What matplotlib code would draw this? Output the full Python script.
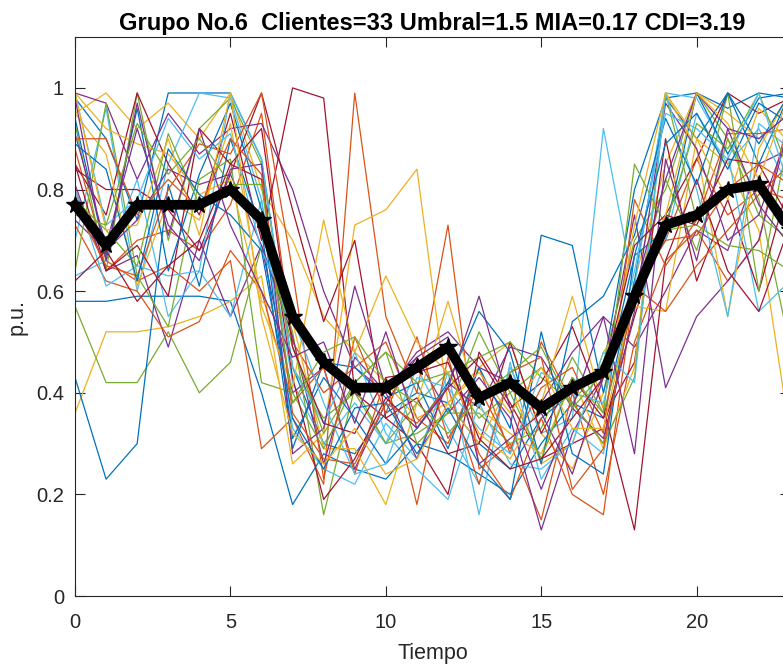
import numpy as np
import matplotlib
matplotlib.use("Agg")
import matplotlib.pyplot as plt

# Hourly load profiles (p.u.) for the 33 clients of group 6
horas = list(range(24))

clientes = [
    [0.98, 0.90, 0.74, 0.99, 0.99, 0.99, 0.86, 0.45, 0.30, 0.28, 0.36, 0.40, 0.38, 0.30, 0.25, 0.35, 0.40, 0.45, 0.80, 0.98, 0.99, 0.96, 0.99, 0.98],
    [0.80, 0.64, 0.70, 0.72, 0.68, 0.77, 0.95, 0.50, 0.40, 0.45, 0.50, 0.35, 0.30, 0.45, 0.28, 0.50, 0.38, 0.30, 0.60, 0.70, 0.86, 0.75, 0.80, 0.78],
    [0.95, 0.99, 0.92, 0.97, 0.90, 0.99, 0.80, 0.70, 0.55, 0.48, 0.42, 0.35, 0.38, 0.45, 0.50, 0.32, 0.25, 0.40, 0.62, 0.85, 0.99, 0.95, 0.90, 0.95],
    [0.99, 0.97, 0.82, 0.95, 0.87, 0.92, 0.93, 0.80, 0.60, 0.45, 0.40, 0.48, 0.52, 0.45, 0.42, 0.38, 0.48, 0.55, 0.49, 0.60, 0.72, 0.68, 0.85, 0.88],
    [0.93, 0.64, 0.99, 0.70, 0.92, 0.98, 0.85, 0.45, 0.35, 0.40, 0.30, 0.38, 0.44, 0.35, 0.40, 0.45, 0.38, 0.46, 0.70, 0.80, 0.99, 0.90, 0.75, 0.70],
    [0.70, 0.96, 0.60, 0.85, 0.99, 0.98, 0.78, 0.42, 0.30, 0.38, 0.30, 0.45, 0.33, 0.22, 0.45, 0.32, 0.35, 0.92, 0.60, 0.70, 0.95, 0.85, 0.92, 0.80],
    [0.85, 0.75, 0.99, 0.85, 0.75, 0.95, 0.70, 1.00, 0.98, 0.40, 0.35, 0.30, 0.20, 0.48, 0.38, 0.27, 0.30, 0.33, 0.55, 0.75, 0.86, 0.99, 0.95, 0.98],
    [0.58, 0.58, 0.59, 0.59, 0.59, 0.58, 0.40, 0.18, 0.28, 0.25, 0.23, 0.30, 0.28, 0.24, 0.20, 0.30, 0.38, 0.35, 0.62, 0.98, 0.90, 0.99, 0.85, 0.99],
    [0.88, 0.66, 0.62, 0.65, 0.60, 0.66, 0.29, 0.35, 0.22, 0.99, 0.55, 0.40, 0.73, 0.25, 0.30, 0.15, 0.40, 0.20, 0.50, 0.66, 0.72, 0.62, 0.70, 0.95],
    [0.36, 0.52, 0.52, 0.53, 0.55, 0.58, 0.63, 0.26, 0.32, 0.73, 0.76, 0.84, 0.38, 0.30, 0.42, 0.26, 0.30, 0.48, 0.57, 0.56, 0.90, 0.85, 0.72, 0.32],
    [0.81, 0.64, 0.67, 0.49, 0.70, 0.55, 0.69, 0.40, 0.45, 0.25, 0.38, 0.47, 0.36, 0.43, 0.35, 0.13, 0.32, 0.43, 0.75, 0.41, 0.55, 0.62, 0.70, 0.93],
    [0.57, 0.42, 0.42, 0.52, 0.40, 0.46, 0.69, 0.52, 0.16, 0.41, 0.30, 0.32, 0.36, 0.36, 0.30, 0.33, 0.47, 0.36, 0.58, 0.82, 0.68, 0.90, 0.78, 0.49],
    [0.63, 0.66, 0.82, 0.55, 0.64, 0.55, 0.78, 0.33, 0.25, 0.22, 0.34, 0.27, 0.44, 0.16, 0.46, 0.23, 0.33, 0.28, 0.61, 0.99, 0.98, 0.87, 0.56, 0.62],
    [0.84, 0.80, 0.80, 0.76, 0.68, 0.83, 0.99, 0.76, 0.54, 0.70, 0.35, 0.39, 0.28, 0.30, 0.50, 0.32, 0.43, 0.35, 0.46, 0.90, 0.62, 0.78, 0.60, 0.82],
    [0.43, 0.23, 0.30, 0.81, 0.61, 0.90, 0.72, 0.29, 0.46, 0.45, 0.39, 0.42, 0.29, 0.45, 0.33, 0.71, 0.69, 0.40, 0.67, 0.72, 0.99, 0.87, 0.98, 0.99],
    [0.73, 0.62, 0.60, 0.51, 0.54, 0.68, 0.60, 0.38, 0.45, 0.24, 0.43, 0.18, 0.47, 0.28, 0.19, 0.35, 0.20, 0.16, 0.61, 0.56, 0.65, 0.72, 0.79, 0.85],
    [0.95, 0.87, 0.61, 0.78, 0.74, 0.93, 0.58, 0.54, 0.29, 0.29, 0.18, 0.38, 0.58, 0.37, 0.32, 0.28, 0.43, 0.29, 0.45, 0.99, 0.88, 0.55, 0.88, 0.99],
    [0.74, 0.68, 0.74, 0.84, 0.81, 0.83, 0.69, 0.51, 0.26, 0.47, 0.40, 0.27, 0.42, 0.37, 0.49, 0.47, 0.37, 0.31, 0.56, 0.97, 0.88, 0.70, 0.75, 0.92],
    [0.64, 0.97, 0.63, 0.53, 0.82, 0.86, 0.42, 0.40, 0.29, 0.42, 0.48, 0.42, 0.44, 0.47, 0.50, 0.43, 0.38, 0.30, 0.43, 0.99, 0.74, 0.99, 0.60, 0.92],
    [0.80, 0.61, 0.65, 0.63, 0.64, 0.99, 0.86, 0.45, 0.34, 0.48, 0.32, 0.25, 0.19, 0.38, 0.26, 0.25, 0.30, 0.48, 0.42, 0.99, 0.80, 0.55, 0.93, 0.88],
    [0.85, 0.64, 0.69, 0.59, 0.92, 0.85, 0.82, 0.43, 0.19, 0.27, 0.39, 0.33, 0.41, 0.47, 0.37, 0.42, 0.53, 0.37, 0.13, 0.66, 0.82, 0.64, 0.56, 0.73],
    [0.94, 0.67, 0.96, 0.64, 0.83, 0.97, 0.76, 0.31, 0.43, 0.35, 0.26, 0.33, 0.42, 0.56, 0.48, 0.26, 0.54, 0.59, 0.71, 0.94, 0.81, 0.99, 0.89, 0.99],
    [0.77, 0.65, 0.63, 0.80, 0.89, 0.87, 0.99, 0.64, 0.23, 0.51, 0.36, 0.51, 0.31, 0.41, 0.29, 0.41, 0.45, 0.32, 0.78, 0.65, 0.74, 0.91, 0.91, 0.92],
    [0.99, 0.92, 0.89, 0.87, 0.79, 0.82, 0.57, 0.41, 0.74, 0.48, 0.63, 0.50, 0.44, 0.32, 0.27, 0.38, 0.59, 0.37, 0.73, 0.99, 0.90, 0.78, 0.96, 0.89],
    [0.91, 0.69, 0.92, 0.73, 0.66, 0.84, 0.85, 0.28, 0.33, 0.61, 0.41, 0.47, 0.51, 0.26, 0.31, 0.36, 0.24, 0.43, 0.60, 0.82, 0.99, 0.92, 0.77, 0.69],
    [0.78, 0.72, 0.65, 0.91, 0.77, 0.80, 0.73, 0.49, 0.32, 0.42, 0.48, 0.30, 0.36, 0.52, 0.40, 0.27, 0.43, 0.36, 0.85, 0.73, 0.93, 0.88, 0.99, 0.83],
    [0.99, 0.73, 0.78, 0.94, 0.86, 0.91, 0.68, 0.55, 0.38, 0.24, 0.26, 0.43, 0.41, 0.33, 0.28, 0.44, 0.40, 0.38, 0.64, 0.95, 0.92, 0.86, 0.99, 0.80],
    [0.62, 0.68, 0.58, 0.65, 0.70, 0.85, 0.92, 0.49, 0.34, 0.32, 0.43, 0.44, 0.46, 0.31, 0.25, 0.27, 0.35, 0.43, 0.69, 0.75, 0.73, 0.86, 0.85, 0.74],
    [0.89, 0.84, 0.62, 0.88, 0.79, 0.75, 0.68, 0.35, 0.25, 0.37, 0.38, 0.28, 0.37, 0.26, 0.19, 0.52, 0.28, 0.24, 0.67, 0.89, 0.95, 0.84, 0.97, 0.93],
    [0.90, 0.90, 0.75, 0.82, 0.76, 0.90, 0.83, 0.36, 0.27, 0.26, 0.38, 0.34, 0.41, 0.22, 0.44, 0.47, 0.21, 0.29, 0.60, 0.70, 0.71, 0.80, 0.85, 0.81],
    [0.99, 0.72, 0.73, 0.90, 0.71, 0.99, 0.55, 0.32, 0.26, 0.33, 0.24, 0.27, 0.38, 0.44, 0.36, 0.45, 0.33, 0.33, 0.60, 0.75, 0.99, 0.93, 0.82, 0.99],
    [0.98, 0.66, 0.97, 0.71, 0.92, 0.73, 0.60, 0.47, 0.50, 0.34, 0.52, 0.33, 0.41, 0.59, 0.37, 0.21, 0.37, 0.55, 0.28, 0.86, 0.66, 0.92, 0.90, 0.95],
    [0.75, 0.73, 0.93, 0.83, 0.90, 0.81, 0.81, 0.38, 0.48, 0.51, 0.42, 0.38, 0.32, 0.39, 0.44, 0.49, 0.37, 0.44, 0.57, 0.72, 0.73, 0.69, 0.68, 0.64],
]

# Group centroid
centroide = [0.77, 0.69, 0.77, 0.77, 0.77, 0.80, 0.74, 0.55, 0.46, 0.41, 0.41, 0.45, 0.49, 0.39,
             0.42, 0.37, 0.41, 0.44, 0.59, 0.73, 0.75, 0.80, 0.81, 0.72]

titulo = "Grupo No.6  Clientes=33 Umbral=1.5 MIA=0.17 CDI=3.19"

# MATLAB default line colour order
colores = ["#0072BD", "#D95319", "#EDB120", "#7E2F8E", "#77AC30", "#4DBEEE", "#A2142F"]
gris = "#262626"

plt.rcParams["font.family"] = ["Liberation Sans", "DejaVu Sans"]

fig = plt.figure(figsize=(7.83, 6.67), dpi=100)
ax = fig.add_axes([0.0958, 0.1064, 0.913, 0.838])

for i, perfil in enumerate(clientes):
    ax.plot(horas, perfil, color=colores[i % len(colores)], linewidth=0.9)

# thick centroid line with star markers at every hour
ax.plot(horas, centroide, color="black", linewidth=7, marker="*", markersize=13,
        solid_joinstyle="round", solid_capstyle="round", clip_on=False, zorder=5)

ax.set_xlim(0, 23)
ax.set_ylim(0, 1.1)
ax.set_xticks([0, 5, 10, 15, 20])
ax.set_yticks([0, 0.2, 0.4, 0.6, 0.8, 1.0])
ax.set_yticklabels(["0", "0.2", "0.4", "0.6", "0.8", "1"])

ax.tick_params(direction="in", length=7, width=0.8, colors=gris, labelsize=14.5,
               top=True, right=True)
ax.tick_params(axis="x", pad=12)
ax.tick_params(axis="y", pad=8)
for lado in ax.spines.values():
    lado.set_color(gris)
    lado.set_linewidth(0.8)

ax.set_xlabel("Tiempo", fontsize=15.5, color=gris, labelpad=8)
ax.set_ylabel("p.u.", fontsize=15.5, color=gris, labelpad=6)
ax.set_title(titulo, fontsize=17, fontweight="bold", color="black", pad=5)

fig.savefig("out.png", dpi=100)
